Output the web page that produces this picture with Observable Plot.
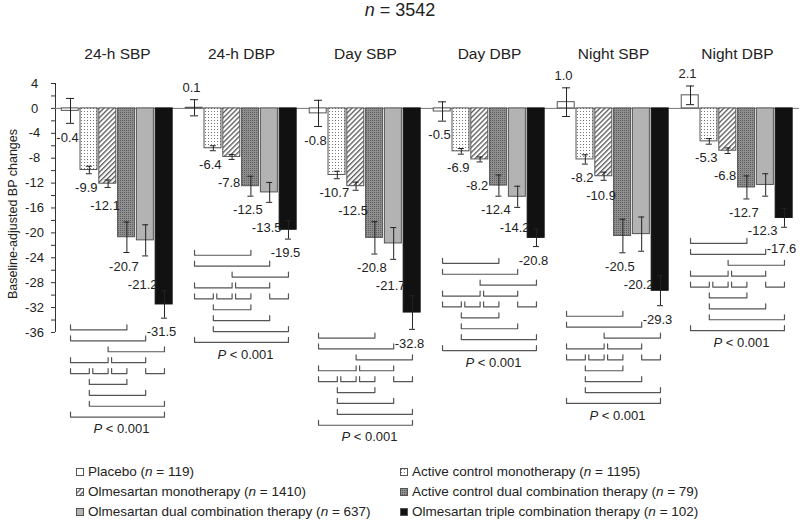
<!DOCTYPE html>
<html><head><meta charset="utf-8">
<script src="https://cdn.jsdelivr.net/npm/d3@7"></script>
<script src="https://cdn.jsdelivr.net/npm/@observablehq/plot@0.6"></script>
<style>
html,body{margin:0;padding:0;background:#fff;overflow:hidden;}
body{width:800px;height:521px;font-family:"Liberation Sans",Arial,sans-serif;color:#222;}
#title{height:26px;line-height:21px;text-align:center;font-size:18px;}
#legend{display:grid;grid-template-columns:324px 400px;padding-left:76px;margin-top:12px;font-size:13.5px;}
.item{height:20px;line-height:20px;display:flex;align-items:center;white-space:nowrap;}
.item svg{margin-right:2px;flex:none;}
</style></head>
<body>
<svg width="0" height="0" style="position:absolute">
<defs>
<pattern id="pdots" width="3" height="3" patternUnits="userSpaceOnUse">
<rect width="3" height="3" fill="#fff"/><rect x="1" y="1" width="1" height="1" fill="#777"/>
</pattern>
<pattern id="phatch" width="3.5" height="3.5" patternUnits="userSpaceOnUse" patternTransform="rotate(45)">
<rect width="3.5" height="3.5" fill="#fff"/><rect width="1.3" height="3.5" fill="#555"/>
</pattern>
<pattern id="pdual" width="2" height="2" patternUnits="userSpaceOnUse">
<rect width="2" height="2" fill="#8e8e8e"/><rect width="1" height="1" fill="#5f5f5f"/>
</pattern>
</defs></svg>
<div id="title"><i>n</i> = 3542</div>
<div id="chart"></div>
<div id="legend"></div>
<script>
// ---------- data ----------
const groups = ["24-h SBP", "24-h DBP", "Day SBP", "Day DBP", "Night SBP", "Night DBP"];
const treatments = [
  "Placebo",
  "Active control monotherapy",
  "Olmesartan monotherapy",
  "Active control dual combination therapy",
  "Olmesartan dual combination therapy",
  "Olmesartan triple combination therapy"
];
const nPatients = [119, 1195, 1410, 79, 637, 102];

// baseline-adjusted BP change per treatment, across groups
const placebo    = [-0.4,   0.1,  -0.8,  -0.5,   1.0,   2.1];
const activeMono = [-9.9,  -6.4, -10.7,  -6.9,  -8.2,  -5.3];
const olmMono    = [-12.1, -7.8, -12.5,  -8.2, -10.9,  -6.8];
const activeDual = [-20.7, -12.5, -20.8, -12.4, -20.5, -12.7];
const olmDual    = [-21.2, -13.5, -21.7, -14.2, -20.2, -12.3];
const olmTriple  = [-31.5, -19.5, -32.8, -20.8, -29.3, -17.6];

// error bar half-widths
const placeboErr    = [2.0, 1.3, 2.1, 1.55, 2.3, 1.5];
const activeMonoErr = [0.6, 0.4, 0.6, 0.45, 0.75, 0.45];
const olmMonoErr    = [0.6, 0.4, 0.65, 0.4, 0.65, 0.45];
const activeDualErr = [2.45, 1.6, 2.6, 1.7, 2.7, 1.85];
const olmDualErr    = [2.5, 1.6, 2.55, 1.7, 2.75, 1.8];
const olmTripleErr  = [2.2, 1.5, 2.7, 1.4, 2.4, 1.5];

// significant pairwise comparisons (treatment indices) and their bracket row
const comparisons = [[0,3],[0,4],[2,5],[0,2],[2,4],[0,1],[1,2],[2,3],[4,5],[1,3],[1,4],[1,5],[0,5]];
const bracketRow  = [0, 1, 2, 3, 3, 4, 4, 4, 4, 5, 6, 7, 8];
const pLabel = "P < 0.001";
const yTicks = d3.range(4, -37, -2);
const yTitle = "Baseline-adjusted BP changes";

const values = [placebo, activeMono, olmMono, activeDual, olmDual, olmTriple];
const errors = [placeboErr, activeMonoErr, olmMonoErr, activeDualErr, olmDualErr, olmTripleErr];

// ---------- styles / layout ----------
const fills = ["#ffffff", "url(#pdots)", "url(#phatch)", "url(#pdual)", "#b3b3b3", "#111111"];
const strokes = ["#555", "#555", "#555", "#555", "#555", "#111"];
const W = 800, H = 424, mL = 53, mT = 57, mB = 6;
const yDomain = [-54, 4];
const xDomain = [-0.3, 6.3];
const pxPerY = (H - mT - mB) / (yDomain[1] - yDomain[0]);
const pxPerX = (W - mL) / groups.length / (xDomain[1] - xDomain[0]);

const rows = [];
groups.forEach((g, gi) => treatments.forEach((t, ti) =>
  rows.push({group: g, t: ti, treatment: t, value: values[ti][gi], err: errors[ti][gi]})));

// value labels with simple collision avoidance
const charW = {"-": 4.33, ".": 3.61};
const textW = s => [...s].reduce((a, c) => a + (charW[c] ?? 7.23), 0);
const labelRows = [];
groups.forEach(g => {
  let prev = null;
  rows.filter(r => r.group === g).forEach(r => {
    const text = r.value.toFixed(1);
    if (r.value >= 0) {
      labelRows.push({group: g, x: r.t + 0.5, y: r.value + r.err + 12 / pxPerY, text});
      prev = null;
      return;
    }
    let y = r.value - r.err - 14 / pxPerY;
    if (prev && (textW(prev.text) + textW(text)) / 2 > pxPerX + 3.5) y = Math.min(y, prev.y - 18 / pxPerY);
    const lab = {group: g, x: r.t + 0.5, y, text};
    labelRows.push(lab);
    prev = lab;
  });
});

// brackets
const rowPx = 10.9, tickUp = 5 / pxPerY;
const brackets = [], pRows = [];
const centerX = d3.mean(treatments, (_, i) => i + 0.5);
groups.forEach((g, gi) => {
  const top = d3.min(values, v => v[gi]) - 25.5 / pxPerY;
  comparisons.forEach(([a, b], k) => {
    const row = bracketRow[k];
    const lvl = top - row * rowPx / pxPerY;
    const shared = comparisons.some((c, j) => j !== k && bracketRow[j] === row && c[1] === a);
    const xa = a + 0.5 + (shared ? 3.5 / pxPerX : 0);
    const xb = b + 0.5;
    const id = g + "-" + k;
    [[xa, lvl + tickUp], [xa, lvl], [xb, lvl], [xb, lvl + tickUp]]
      .forEach(([x, y]) => brackets.push({group: g, id, x, y}));
  });
  const last = top - d3.max(bracketRow) * rowPx / pxPerY;
  pRows.push({group: g, x: centerX, y: last - 12 / pxPerY});
});

const barMarks = treatments.map((t, ti) => Plot.rect(rows.filter(r => r.t === ti), {
  fx: "group", x1: d => d.t, x2: d => d.t + 1, y1: 0, y2: "value",
  fill: fills[ti], stroke: strokes[ti], strokeWidth: 1, insetLeft: 0.6, insetRight: 1.2
}));

const capMark = (filter, end, inset) => Plot.ruleY(rows.filter(filter), {
  fx: "group", x1: d => d.t + 0.5, x2: d => d.t + 0.5, y: d => d.value + end * d.err,
  insetLeft: -inset, insetRight: -inset, stroke: "#222"
});

const chart = Plot.plot({
  width: W, height: H,
  marginLeft: mL, marginRight: 0, marginTop: mT, marginBottom: mB,
  style: {fontFamily: "'Liberation Sans', Arial, sans-serif", fontSize: "13px", color: "#222", background: "#fff"},
  fx: {domain: groups, padding: 0, axis: null},
  x: {domain: xDomain, axis: null},
  y: {domain: yDomain},
  marks: [
    Plot.axisY({ticks: yTicks, tickSize: 4, tickPadding: 17, textAnchor: "middle",
      tickFormat: d => (d % 4 === 0 ? String(d) : ""), label: null, fontSize: 13, stroke: "#333"}),
    Plot.ruleX([groups[0]], {fx: d => d, x: () => xDomain[0], y1: yTicks[0], y2: yTicks[yTicks.length - 1], stroke: "#333"}),
    Plot.text([yTitle], {fx: () => groups[0], frameAnchor: "left", y: () => (yTicks[0] + yTicks[yTicks.length - 1]) / 2,
      text: d => d, rotate: -90, dx: -43, dy: 6, textAnchor: "middle", fontSize: 12.5}),
    Plot.text(groups, {fx: d => d, text: d => d, frameAnchor: "top", dy: -35.5, fontSize: 15.5}),
    Plot.ruleY([0], {stroke: "#777"}),
    ...barMarks,
    Plot.ruleX(rows, {fx: "group", x: d => d.t + 0.5, y1: d => d.value - d.err, y2: d => d.value + d.err, stroke: "#222"}),
    capMark(r => r.t === 0, -1, 4),
    capMark(r => r.t === 0, 1, 4),
    capMark(r => r.t > 0, -1, 3),
    capMark(r => r.t > 0, 1, 3),
    Plot.text(labelRows, {fx: "group", x: "x", y: "y", text: "text", dx: -3, fontSize: 13, fill: "#222"}),
    Plot.line(brackets, {fx: "group", x: "x", y: "y", z: "id", stroke: "#555", strokeWidth: 1.2}),
    Plot.text(pRows, {fx: "group", x: "x", y: "y", text: () => pLabel, dx: 4, fontSize: 13, fill: "#222"})
  ]
});
document.getElementById("chart").appendChild(chart);

// italic P
d3.select(chart).selectAll("text").filter(function () { return this.textContent === pLabel; }).each(function () {
  const s = d3.select(this);
  s.text(null);
  s.append("tspan").attr("font-style", "italic").text("P");
  s.append("tspan").text(" < 0.001");
});

// legend
const legend = d3.select("#legend");
treatments.forEach((t, i) => {
  const item = legend.append("div").attr("class", "item");
  const sw = item.append("svg").attr("width", 10).attr("height", 9);
  sw.append("rect").attr("x", 0.5).attr("y", 0.5).attr("width", 7).attr("height", 7)
    .attr("fill", fills[i]).attr("stroke", "#555");
  item.append("span").html(`${t} (<i>n</i> = ${nPatients[i]})`);
});
</script></body></html>
